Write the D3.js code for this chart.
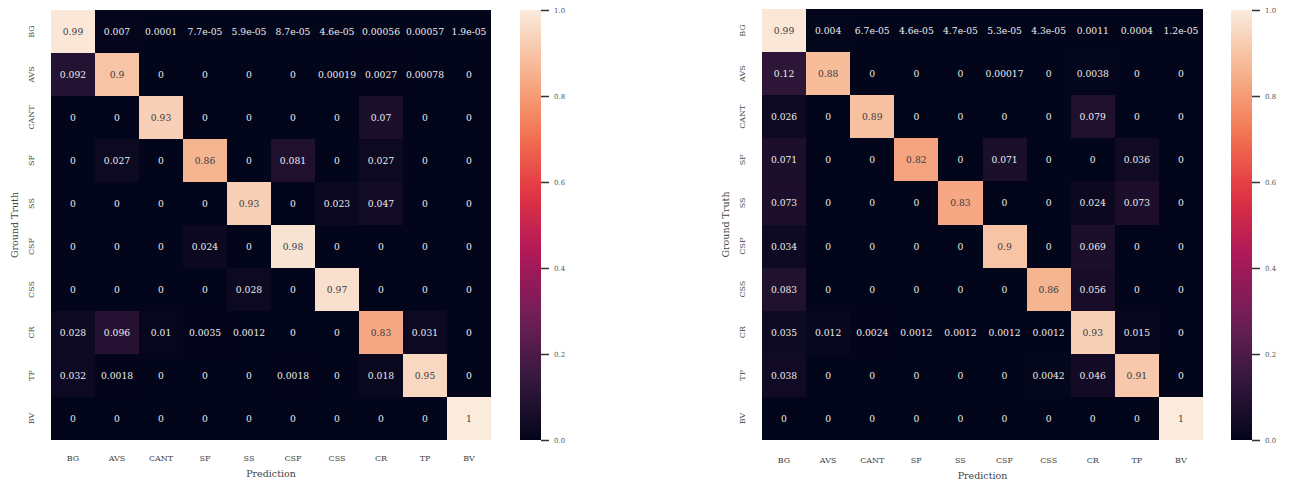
<!DOCTYPE html>
<html>
<head>
<meta charset="utf-8">
<script src="https://cdn.jsdelivr.net/npm/d3@7"></script>
<style>
  body { margin: 0; background: #fff; }
  svg text { font-family: "DejaVu Serif", serif; }
</style>
</head>
<body>
<svg id="chart" width="1290" height="483"></svg>
<script>
// class labels, same for both axes
var classes = ["BG", "AVS", "CANT", "SF", "SS", "CSF", "CSS", "CR", "TP", "BV"];

// left confusion matrix (rows = ground truth)
var leftMatrix = [
  [0.99, 0.007, 0.0001, 7.7e-05, 5.9e-05, 8.7e-05, 4.6e-05, 0.00056, 0.00057, 1.9e-05],
  [0.092, 0.9, 0, 0, 0, 0, 0.00019, 0.0027, 0.00078, 0],
  [0, 0, 0.93, 0, 0, 0, 0, 0.07, 0, 0],
  [0, 0.027, 0, 0.86, 0, 0.081, 0, 0.027, 0, 0],
  [0, 0, 0, 0, 0.93, 0, 0.023, 0.047, 0, 0],
  [0, 0, 0, 0.024, 0, 0.98, 0, 0, 0, 0],
  [0, 0, 0, 0, 0.028, 0, 0.97, 0, 0, 0],
  [0.028, 0.096, 0.01, 0.0035, 0.0012, 0, 0, 0.83, 0.031, 0],
  [0.032, 0.0018, 0, 0, 0, 0.0018, 0, 0.018, 0.95, 0],
  [0, 0, 0, 0, 0, 0, 0, 0, 0, 1]
];

// right confusion matrix
var rightMatrix = [
  [0.99, 0.004, 6.7e-05, 4.6e-05, 4.7e-05, 5.3e-05, 4.3e-05, 0.0011, 0.0004, 1.2e-05],
  [0.12, 0.88, 0, 0, 0, 0.00017, 0, 0.0038, 0, 0],
  [0.026, 0, 0.89, 0, 0, 0, 0, 0.079, 0, 0],
  [0.071, 0, 0, 0.82, 0, 0.071, 0, 0, 0.036, 0],
  [0.073, 0, 0, 0, 0.83, 0, 0, 0.024, 0.073, 0],
  [0.034, 0, 0, 0, 0, 0.9, 0, 0.069, 0, 0],
  [0.083, 0, 0, 0, 0, 0, 0.86, 0.056, 0, 0],
  [0.035, 0.012, 0.0024, 0.0012, 0.0012, 0.0012, 0.0012, 0.93, 0.015, 0],
  [0.038, 0, 0, 0, 0, 0, 0.0042, 0.046, 0.91, 0],
  [0, 0, 0, 0, 0, 0, 0, 0, 0, 1]
];

var colorbarTicks = [0, 0.2, 0.4, 0.6, 0.8, 1.0];

// rough "rocket" colormap
var rocketStops = ["#03051a", "#35193e", "#701f57", "#ad1759", "#e13342", "#f37651", "#f6b48f", "#faebdd"];
var color = d3.scaleLinear()
  .domain(d3.range(rocketStops.length).map(i => i / (rocketStops.length - 1)))
  .range(rocketStops)
  .interpolate(d3.interpolateRgb);

// python style ".2g"
function fmt(v) {
  if (v === 0) return "0";
  var e = Math.floor(Math.log10(Math.abs(v)));
  if (e < -4 || e >= 2) {
    var s = v.toExponential(1).replace(/\.?0+e/, "e");
    return s.replace(/e([+-])(\d)$/, "e$10$2");
  }
  var dec = Math.max(0, 1 - e);
  var t = v.toFixed(dec);
  if (t.indexOf(".") >= 0) t = t.replace(/0+$/, "").replace(/\.$/, "");
  return t;
}

function textColor(c) {
  var rgb = d3.rgb(c);
  var lum = [rgb.r, rgb.g, rgb.b].map(x => {
    x /= 255;
    return x <= 0.03928 ? x / 12.92 : Math.pow((x + 0.055) / 1.055, 2.4);
  });
  var L = 0.2126 * lum[0] + 0.7152 * lum[1] + 0.0722 * lum[2];
  return L > 0.408 ? "#3a3a3a" : "#eeeeee";
}

var svg = d3.select("#chart");

// gradient for the colorbars
var grad = svg.append("defs").append("linearGradient")
  .attr("id", "rocket")
  .attr("x1", "0%").attr("y1", "100%")
  .attr("x2", "0%").attr("y2", "0%");
d3.range(0, 1.0001, 0.05).forEach(t => {
  grad.append("stop").attr("offset", (t * 100) + "%").attr("stop-color", color(t));
});

function drawPanel(matrix, opt) {
  var g = svg.append("g");

  var x = d3.scaleBand().domain(classes).range([opt.left, opt.right]);
  var y = d3.scaleBand().domain(classes).range([opt.top, opt.bottom]);

  var cells = [];
  matrix.forEach((row, i) => row.forEach((v, j) => cells.push({r: classes[i], c: classes[j], v: v})));

  g.selectAll("rect.cell")
    .data(cells)
    .enter().append("rect")
    .attr("class", "cell")
    .attr("x", d => Math.round(x(d.c)))
    .attr("y", d => Math.round(y(d.r)))
    .attr("width", d => Math.round(x(d.c) + x.bandwidth()) - Math.round(x(d.c)))
    .attr("height", d => Math.round(y(d.r) + y.bandwidth()) - Math.round(y(d.r)))
    .attr("shape-rendering", "crispEdges")
    .attr("fill", d => color(d.v));

  g.selectAll("text.annot")
    .data(cells)
    .enter().append("text")
    .attr("class", "annot")
    .attr("x", d => x(d.c) + x.bandwidth() / 2)
    .attr("y", d => y(d.r) + y.bandwidth() / 2)
    .attr("text-anchor", "middle")
    .attr("dominant-baseline", "central")
    .style("font-size", "9.2px")
    .attr("fill", d => textColor(color(d.v)))
    .text(d => fmt(d.v));

  // x tick labels
  g.selectAll("text.xt")
    .data(classes)
    .enter().append("text")
    .attr("class", "xt")
    .attr("x", d => x(d) + x.bandwidth() / 2)
    .attr("y", opt.xTickY)
    .attr("text-anchor", "middle")
    .style("font-size", "8px")
    .attr("fill", "#444")
    .text(d => d);

  // y tick labels, rotated
  g.selectAll("text.yt")
    .data(classes)
    .enter().append("text")
    .attr("class", "yt")
    .attr("transform", d => `translate(${opt.yTickX},${y(d) + y.bandwidth() / 2})rotate(-90)`)
    .attr("text-anchor", "middle")
    .attr("dominant-baseline", "central")
    .style("font-size", "8px")
    .attr("fill", "#444")
    .text(d => d);

  g.append("text")
    .attr("x", (opt.left + opt.right) / 2)
    .attr("y", opt.xTitleY)
    .attr("text-anchor", "middle")
    .style("font-size", "9.5px")
    .attr("fill", "#444")
    .text("Prediction");

  g.append("text")
    .attr("transform", `translate(${opt.yTitleX},${(opt.top + opt.bottom) / 2})rotate(-90)`)
    .attr("text-anchor", "middle")
    .attr("dominant-baseline", "central")
    .style("font-size", "9.5px")
    .attr("fill", "#444")
    .text("Ground Truth");

  // colorbar
  var cbScale = d3.scaleLinear().domain([0, 1]).range([opt.cbBottom, opt.cbTop]);
  g.append("rect")
    .attr("x", opt.cbX)
    .attr("y", opt.cbTop)
    .attr("width", opt.cbW)
    .attr("height", opt.cbBottom - opt.cbTop)
    .attr("fill", "url(#rocket)");

  var cbAxis = d3.axisRight(cbScale)
    .tickValues(colorbarTicks)
    .tickFormat(d3.format(".1f"))
    .tickSize(8)
    .tickPadding(5);

  var ax = g.append("g")
    .attr("transform", `translate(${opt.cbX + opt.cbW},0)`)
    .call(cbAxis);
  ax.select(".domain").remove();
  ax.selectAll(".tick line").attr("stroke", "#333").attr("stroke-width", 1.5);
  ax.selectAll(".tick text")
    .style("font-family", "DejaVu Serif, serif")
    .style("font-size", "7px")
    .attr("fill", "#555");
}

drawPanel(leftMatrix, {
  left: 51, right: 491, top: 10, bottom: 440,
  xTickY: 461, xTitleY: 477, yTickX: 31, yTitleX: 14,
  cbX: 520, cbW: 21, cbTop: 10, cbBottom: 440
});

drawPanel(rightMatrix, {
  left: 762, right: 1203, top: 9, bottom: 440,
  xTickY: 463, xTitleY: 479, yTickX: 742, yTitleX: 725,
  cbX: 1231, cbW: 21, cbTop: 10, cbBottom: 440
});
</script>
</body>
</html>
